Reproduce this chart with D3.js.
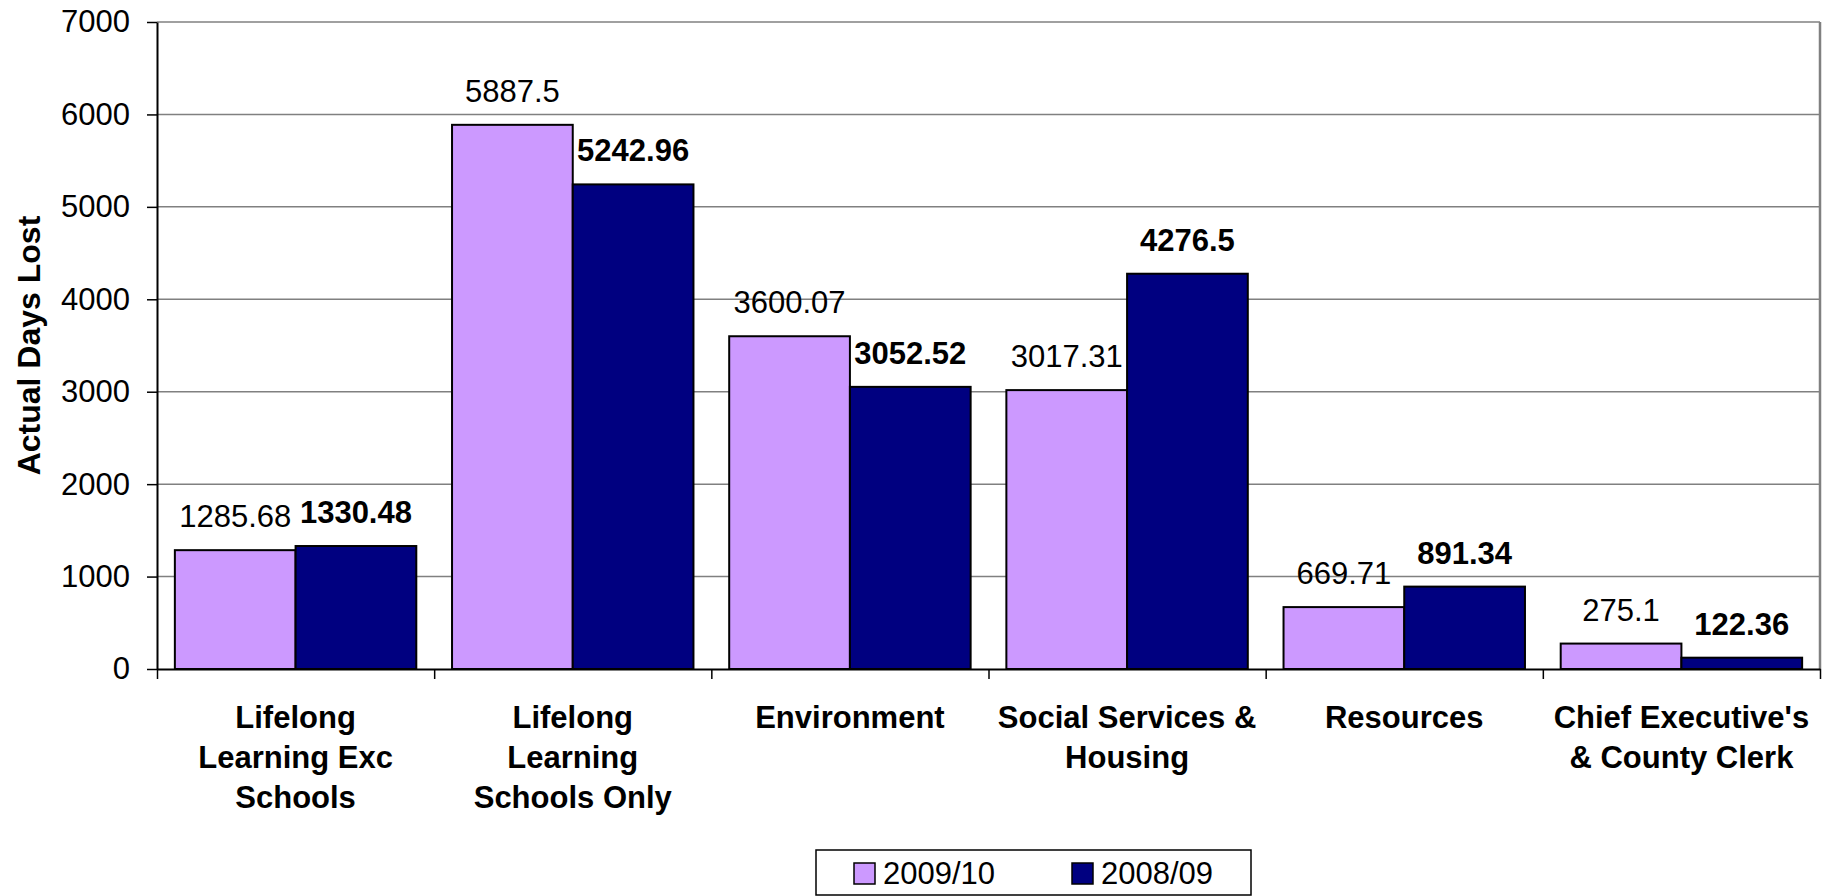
<!DOCTYPE html>
<html>
<head>
<meta charset="utf-8">
<script src="https://cdn.jsdelivr.net/npm/d3@7"></script>
<style>
  body { margin: 0; background: #fff; }
  text { font-family: "Liberation Sans", Arial, sans-serif; fill: #000; }
</style>
</head>
<body>
<div id="chart"></div>
<script>
// data
const categories = [
  "Lifelong Learning Exc Schools",
  "Lifelong Learning Schools Only",
  "Environment",
  "Social Services & Housing",
  "Resources",
  "Chief Executive's & County Clerk",
];
// how the category names wrap under the axis
const categoryLines = [
  ["Lifelong", "Learning Exc", "Schools"],
  ["Lifelong", "Learning", "Schools Only"],
  ["Environment"],
  ["Social Services &", "Housing"],
  ["Resources"],
  ["Chief Executive's", "& County Clerk"],
];
const seriesNames = ["2009/10", "2008/09"];
const values0910 = [1285.68, 5887.5, 3600.07, 3017.31, 669.71, 275.1];
const values0809 = [1330.48, 5242.96, 3052.52, 4276.5, 891.34, 122.36];
const yTicks = [0, 1000, 2000, 3000, 4000, 5000, 6000, 7000];

const colors = ["#cc99ff", "#000080"];

const width = 1823, height = 896;
const margin = { left: 157, right: 3, top: 22, bottom: 227 };
const innerW = width - margin.left - margin.right;
const innerH = height - margin.top - margin.bottom;

const svg = d3.select("#chart")
  .append("svg")
  .attr("width", width)
  .attr("height", height);

const g = svg.append("g")
  .attr("transform", `translate(${margin.left},${margin.top})`);

// scales
const x0 = d3.scaleBand().domain(categories).range([0, innerW]).padding(0);
const x1 = d3.scaleBand().domain(seriesNames).range([0, x0.bandwidth()])
  .paddingInner(0).paddingOuter(0.148);
const y = d3.scaleLinear().domain([0, 7000]).range([innerH, 0]);

//gridlines + plot border
g.append("g")
  .selectAll("line")
  .data(yTicks.slice(1))
  .join("line")
  .attr("x1", 0).attr("x2", innerW)
  .attr("y1", (d) => y(d)).attr("y2", (d) => y(d))
  .attr("stroke", "#808080")
  .attr("stroke-width", 1.5);
g.append("line")
  .attr("x1", innerW).attr("x2", innerW)
  .attr("y1", 0).attr("y2", innerH)
  .attr("stroke", "#808080")
  .attr("stroke-width", 2.5);

// bars
const rows = categories.map((c, i) => ({ cat: c, vals: [values0910[i], values0809[i]] }));
const groups = g.append("g")
  .selectAll("g")
  .data(rows)
  .join("g")
  .attr("transform", (d) => `translate(${x0(d.cat)},0)`);

groups.selectAll("rect")
  .data((d) => d.vals.map((v, j) => ({ s: seriesNames[j], v: v, j: j })))
  .join("rect")
  .attr("x", (d) => x1(d.s))
  .attr("y", (d) => y(d.v))
  .attr("width", x1.bandwidth())
  .attr("height", (d) => innerH - y(d.v))
  .attr("fill", (d) => colors[d.j])
  .attr("stroke", "#000")
  .attr("stroke-width", 2);

// value labels
groups.selectAll("text")
  .data((d) => d.vals.map((v, j) => ({ s: seriesNames[j], v: v, j: j })))
  .join("text")
  .attr("x", (d) => x1(d.s) + x1.bandwidth() / 2)
  .attr("y", (d) => y(d.v) - 23)
  .attr("text-anchor", "middle")
  .attr("font-size", 31)
  .attr("font-weight", (d) => (d.j === 1 ? "bold" : "normal"))
  .text((d) => d.v);

// y axis
const axisY = g.append("g")
  .call(d3.axisLeft(y).tickValues(yTicks).tickFormat(d3.format("d"))
    .tickSize(10).tickSizeOuter(0).tickPadding(17));
axisY.select(".domain").attr("stroke", "#000").attr("stroke-width", 2);
axisY.selectAll(".tick line").attr("stroke", "#000").attr("stroke-width", 1.5);
axisY.selectAll(".tick text")
  .attr("font-size", 31)
  .attr("font-family", "Liberation Sans, Arial, sans-serif")
  .attr("fill", "#000");

// x axis: line with ticks at category boundaries
const xb = d3.scaleLinear().domain([0, categories.length]).range([0, innerW]);
const axisX = g.append("g")
  .attr("transform", `translate(0,${innerH})`)
  .call(d3.axisBottom(xb).ticks(categories.length).tickSize(10).tickSizeOuter(0).tickFormat(""));
axisX.select(".domain").attr("stroke", "#000").attr("stroke-width", 2);
axisX.selectAll(".tick line").attr("stroke", "#000").attr("stroke-width", 1.5);

// category labels
g.append("g")
  .selectAll("text")
  .data(categories)
  .join("text")
  .attr("text-anchor", "middle")
  .attr("font-size", 31)
  .attr("font-weight", "bold")
  .attr("transform", (d) => `translate(${x0(d) + x0.bandwidth() / 2},${innerH + 59})`)
  .selectAll("tspan")
  .data((d, i) => categoryLines[i])
  .join("tspan")
  .attr("x", 0)
  .attr("y", (d, i) => i * 40)
  .text((d) => d);

// y title
svg.append("text")
  .attr("transform", `translate(40,${margin.top + innerH / 2}) rotate(-90)`)
  .attr("text-anchor", "middle")
  .attr("font-size", 32)
  .attr("font-weight", "bold")
  .text("Actual Days Lost");

// legend
const legend = svg.append("g").attr("transform", "translate(816,850)");
legend.append("rect")
  .attr("width", 435).attr("height", 45)
  .attr("fill", "#fff")
  .attr("stroke", "#000")
  .attr("stroke-width", 1.5);
const items = legend.selectAll("g.item")
  .data(seriesNames)
  .join("g")
  .attr("class", "item")
  .attr("transform", (d, i) => `translate(${38 + i * 218},0)`);
items.append("rect")
  .attr("y", 13).attr("width", 21).attr("height", 21)
  .attr("fill", (d, i) => colors[i])
  .attr("stroke", "#000")
  .attr("stroke-width", 1.5);
items.append("text")
  .attr("x", 29).attr("y", 34)
  .attr("font-size", 31)
  .text((d) => d);
</script>
</body>
</html>
